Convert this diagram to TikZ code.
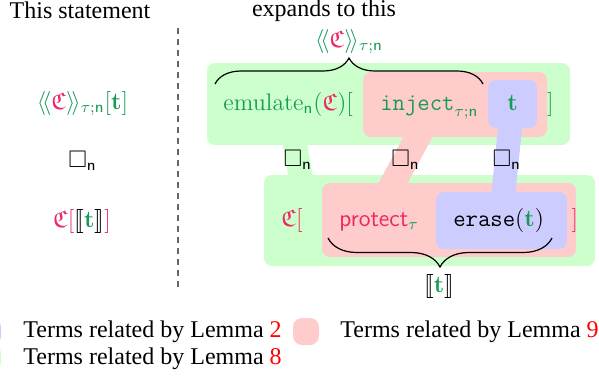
\documentclass[tikz,border=0pt,12pt]{standalone}
\usepackage[no-math]{fontspec}
\setmainfont{Liberation Serif}
\usepackage{amssymb}
\usepackage{stmaryrd}
\usetikzlibrary{decorations.pathreplacing}
\definecolor{cg}{RGB}{22,155,85}
\definecolor{cp}{RGB}{235,40,100}
\definecolor{bgG}{RGB}{204,255,204}
\definecolor{bgP}{RGB}{255,204,204}
\definecolor{bgB}{RGB}{204,204,255}
\begin{document}
\begin{tikzpicture}[x=0.5pt,y=-0.5pt,
  box/.style={rectangle, rounded corners=4pt, inner sep=0pt, draw=none},
  gbox/.style={box, fill=bgG},
  pbox/.style={box, fill=bgP},
  bbox/.style={box, fill=bgB},
  conn/.style={line width=12pt, line cap=butt},
  sqlbl/.style={midway, inner sep=0pt, text=black},
  lbl/.style={inner sep=0pt, anchor=base},
  lblw/.style={inner sep=0pt, anchor=base west},
  brc/.style={decorate, decoration={brace, amplitude=#1}, line width=0.6pt, draw=black},
  legbox/.style={box, rounded corners=4.5pt, minimum width=13pt, minimum height=13.5pt},
]
\useasboundingbox (0,0) rectangle (599,377);

% headings and divider
\node[lbl] (stmt) at (80,18) {This statement};
\node[lbl] (exp) at (324,16) {expands to this};
\coordinate (d1) at (178,28);
\coordinate (d2) at (178,291);
\draw[black!60, line width=0.7pt, dash pattern=on 3pt off 2.5pt] (d1) -- (d2);

% left column
\node[lbl] (l1) at (82.5,109) {$\color{cg}\langle\!\langle{\color{cp}\mathfrak{C}}\rangle\!\rangle_{\tau;\mathsf{n}}[\mathbf{t}]$};
\node[lbl] (l2) at (82.5,167) {$\square_{\mathsf{n}}$};
\node[lbl] (l3) at (82,227) {${\color{cp}\mathfrak{C}[}\llbracket{\color{cg}\mathbf{t}}\rrbracket{\color{cp}]}$};

% green layer
\node[gbox, minimum width=181.5pt, minimum height=41pt] (topG) at (388.5,104) {};
\node[gbox, minimum width=165.5pt, minimum height=45.5pt] (botG) at (429.5,220.5) {};
\coordinate (g1) at (294.1,140);
\coordinate (g2) at (301.4,180);
\draw[conn, draw=bgG] (g1) -- (g2) node[sqlbl] (sq1) {$\square_{\mathsf{n}}$};

% pink layer
\node[pbox, minimum width=92pt, minimum height=32.5pt] (topP) at (455,104.5) {};
\node[pbox, minimum width=127pt, minimum height=37pt] (botP) at (449,220) {};
\coordinate (p1) at (424.5,125);
\coordinate (p2) at (386.5,195);
\draw[conn, draw=bgP, line width=12.8pt] (p1) -- (p2) node[sqlbl] (sq2) {$\square_{\mathsf{n}}$};

% blue layer
\node[bbox, minimum width=24.5pt, minimum height=24pt] (topB) at (512.5,104) {};
\node[bbox, minimum width=65.5pt, minimum height=28.5pt] (botB) at (501.5,220.5) {};
\coordinate (b1) at (510.8,120);
\coordinate (b2) at (502.7,200);
\draw[conn, draw=bgB] (b1) -- (b2) node[sqlbl] (sq3) {$\square_{\mathsf{n}}$};

% top row text
\node[lblw] (emu) at (223,110) {$\color{cg}\mathrm{emulate}_{\mathsf{n}}({\color{cp}\mathfrak{C}})[$};
\node[lblw] (inj) at (380,110) {$\color{cg}\mathtt{inject}_{\tau;\mathsf{n}}$};
\node[lbl] (tt) at (512.5,110) {$\color{cg}\mathbf{t}$};
\node[lbl] (rb1) at (550.5,110) {$\color{cg}]$};

% bottom row text
\node[lblw] (cc) at (281,226) {$\color{cp}\mathfrak{C}[$};
\node[lblw] (prot) at (339,226) {${\color{cp}\mathsf{protect}}_{\color{cg}\tau}$};
\node[lblw] (era) at (453,226) {$\mathtt{erase}({\color{cg}\mathbf{t}})$};
\node[lbl] (rb2) at (575,226) {$\color{cp}]$};

% braces
\coordinate (bt1) at (215,84);
\coordinate (bt2) at (483,84);
\draw[brc=13pt] (bt1) -- (bt2);
\node[lbl] (toplab) at (349,47) {$\color{cg}\langle\!\langle{\color{cp}\mathfrak{C}}\rangle\!\rangle_{\tau;\mathsf{n}}$};
\coordinate (bb1) at (552,238);
\coordinate (bb2) at (328,238);
\draw[brc=14.5pt] (bb1) -- (bb2);
\node[lbl] (botlab) at (439,292) {$\llbracket{\color{cg}\mathbf{t}}\rrbracket$};

% legend
\begin{scope}
\clip (0,0) rectangle (599,377);
\node[legbox, fill=bgB] (legB) at (-12,331.5) {};
\node[legbox, fill=bgG] (legG) at (-12,357.5) {};
\end{scope}
\node[legbox, fill=bgP] (legP) at (306,331.5) {};
\node[lblw] (t2) at (23,337) {Terms related by Lemma {\color{red}2}};
\node[lblw] (t8) at (23,364) {Terms related by Lemma {\color{red}8}};
\node[lblw] (t9) at (340,337) {Terms related by Lemma {\color{red}9}};
\end{tikzpicture}
\end{document}
